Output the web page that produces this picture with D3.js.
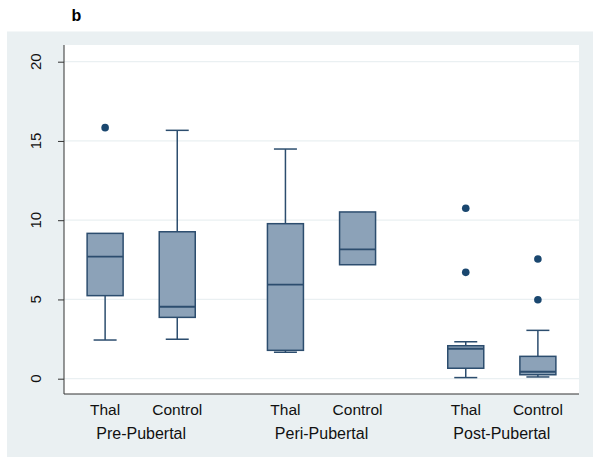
<!DOCTYPE html>
<html><head><meta charset="utf-8">
<script src="https://cdn.jsdelivr.net/npm/d3@7"></script>
<style>body{margin:0;background:#fff}svg{display:block;font-family:"Liberation Sans",Arial,sans-serif}</style>
</head><body>
<script>
const groups = ["Pre-Pubertal", "Peri-Pubertal", "Post-Pubertal"];
const subgroups = ["Thal", "Control"];
// per box, order: Pre Thal, Pre Control, Peri Thal, Peri Control, Post Thal, Post Control
const whiskerLow  = [2.44, 2.49, 1.67, 7.19, 0.07, 0.11];
const q1          = [5.24, 3.87, 1.79, 7.19, 0.66, 0.25];
const median      = [7.70, 4.54, 5.93, 8.16, 1.89, 0.44];
const q3          = [9.17, 9.27, 9.78, 10.52, 2.08, 1.41];
const whiskerHigh = [9.17, 15.67, 14.49, 10.52, 2.33, 3.05];
const outliers    = [[15.84], [], [], [], [10.75, 6.71], [7.55, 4.98]];
const yTicks = [0, 5, 10, 15, 20];

const W = 600, H = 465;
const plot = {x0: 64, x1: 579, y0: 45, y1: 394};
const svg = d3.select("body").append("svg").attr("width", W).attr("height", H);

svg.append("rect").attr("x", 7).attr("y", 31.5).attr("width", 586).attr("height", 425.5).attr("fill", "#eaf0f2");
svg.append("rect").attr("x", plot.x0).attr("y", plot.y0).attr("width", plot.x1 - plot.x0).attr("height", plot.y1 - plot.y0).attr("fill", "#fff");

svg.append("text").attr("x", 71.5).attr("y", 20.5).attr("font-size", 16).attr("font-weight", "bold").attr("fill", "#000").text("b");

const y = d3.scaleLinear().domain([0, 20]).range([378.7, 61.7]);
// position index: group*2.5 + member
const x = d3.scaleLinear().domain([-0.57, 6.57]).range([plot.x0, plot.x1]);
const boxes = [];
groups.forEach((g, gi) => subgroups.forEach((s, si) => {
  const i = gi * 2 + si;
  boxes.push({g, s, gi, pos: gi * 2.5 + si, lo: whiskerLow[i], q1: q1[i], med: median[i], q3: q3[i], hi: whiskerHigh[i], out: outliers[i]});
}));

// gridlines
svg.append("g").selectAll("line").data(yTicks).join("line")
  .attr("x1", plot.x0).attr("x2", plot.x1).attr("y1", d => y(d)).attr("y2", d => y(d))
  .attr("stroke", "#eaf0f2").attr("stroke-width", 1.2);

// y axis
const yAxis = d3.axisLeft(y).tickValues(yTicks).tickSize(6).tickFormat(d3.format("d"));
const ya = svg.append("g").attr("transform", `translate(${plot.x0},0)`).call(yAxis);
ya.select(".domain").remove();
ya.selectAll(".tick line").attr("stroke", "#333");
ya.selectAll(".tick text").remove();
svg.append("line").attr("x1", plot.x0).attr("x2", plot.x0).attr("y1", plot.y0).attr("y2", plot.y1).attr("stroke", "#333").attr("stroke-width", 1);
svg.append("g").selectAll("text").data(yTicks).join("text")
  .attr("transform", d => `translate(41,${y(d)}) rotate(-90)`)
  .attr("text-anchor", "middle").attr("font-size", 15).attr("fill", "#111").text(d => d);

// x axis line
svg.append("line").attr("x1", plot.x0).attr("x2", plot.x1).attr("y1", plot.y1).attr("y2", plot.y1).attr("stroke", "#333").attr("stroke-width", 1);

const bw = 36, cap = 23;
const stroke = "#2c4d6e", fill = "#8ca2b8", dot = "#1a476f";
const bg = svg.append("g").selectAll("g").data(boxes).join("g");
// whiskers
bg.filter(d => d.hi > d.q3).append("line").attr("x1", d => x(d.pos)).attr("x2", d => x(d.pos)).attr("y1", d => y(d.q3)).attr("y2", d => y(d.hi)).attr("stroke", stroke).attr("stroke-width", 1.5);
bg.filter(d => d.hi > d.q3).append("line").attr("x1", d => x(d.pos) - cap/2).attr("x2", d => x(d.pos) + cap/2).attr("y1", d => y(d.hi)).attr("y2", d => y(d.hi)).attr("stroke", stroke).attr("stroke-width", 1.5);
bg.filter(d => d.lo < d.q1).append("line").attr("x1", d => x(d.pos)).attr("x2", d => x(d.pos)).attr("y1", d => y(d.q1)).attr("y2", d => y(d.lo)).attr("stroke", stroke).attr("stroke-width", 1.5);
bg.filter(d => d.lo < d.q1).append("line").attr("x1", d => x(d.pos) - cap/2).attr("x2", d => x(d.pos) + cap/2).attr("y1", d => y(d.lo)).attr("y2", d => y(d.lo)).attr("stroke", stroke).attr("stroke-width", 1.5);
// box
bg.append("rect").attr("x", d => x(d.pos) - bw/2).attr("width", bw).attr("y", d => y(d.q3)).attr("height", d => y(d.q1) - y(d.q3))
  .attr("fill", fill).attr("stroke", stroke).attr("stroke-width", 1.5);
bg.append("line").attr("x1", d => x(d.pos) - bw/2).attr("x2", d => x(d.pos) + bw/2).attr("y1", d => y(d.med)).attr("y2", d => y(d.med)).attr("stroke", stroke).attr("stroke-width", 1.8);
// outliers
bg.selectAll("circle").data(d => d.out.map(v => ({pos: d.pos, v}))).join("circle")
  .attr("cx", d => x(d.pos)).attr("cy", d => y(d.v)).attr("r", 3.8).attr("fill", dot);

// x labels
svg.append("g").selectAll("text").data(boxes).join("text")
  .attr("x", d => x(d.pos)).attr("y", 414.5).attr("text-anchor", "middle").attr("font-size", 15.5).attr("fill", "#111").text(d => d.s);
svg.append("g").selectAll("text").data(groups).join("text")
  .attr("x", (d, i) => x(i * 2.5 + 0.5)).attr("y", 438.5).attr("text-anchor", "middle").attr("font-size", 16).attr("fill", "#111").text(d => d);
</script>
</body></html>
